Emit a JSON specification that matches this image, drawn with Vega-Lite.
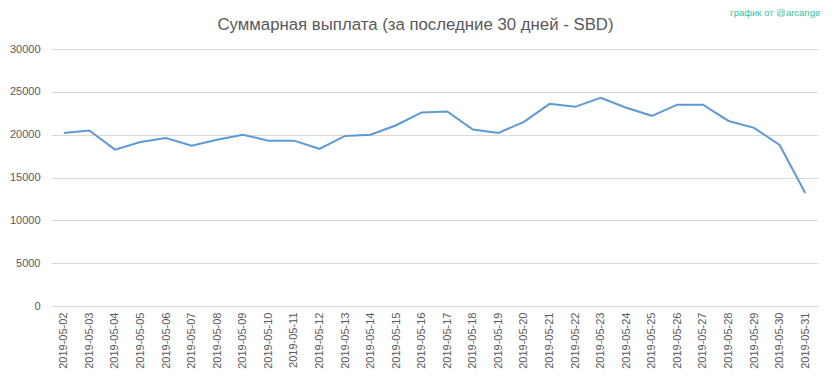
{
  "$schema": "https://vega.github.io/schema/vega-lite/v6.json",
  "width": 767,
  "height": 257,
  "autosize": {"type": "none"},
  "padding": {"left": 51, "top": 49, "right": 15, "bottom": 73},
  "background": "white",
  "config": {
    "view": {"stroke": null},
    "font": "Liberation Sans"
  },
  "title": {
    "text": "Суммарная выплата (за последние 30 дней - SBD)",
    "font": "Liberation Sans",
    "fontSize": 16.8,
    "fontWeight": "normal",
    "color": "#595959",
    "anchor": "middle",
    "baseline": "alphabetic",
    "dx": -19,
    "offset": -39
  },
  "layer": [
    {
      "data": {
        "values": [
          {"date": "2019-05-02", "value": 20200},
          {"date": "2019-05-03", "value": 20480},
          {"date": "2019-05-04", "value": 18250},
          {"date": "2019-05-05", "value": 19150},
          {"date": "2019-05-06", "value": 19600},
          {"date": "2019-05-07", "value": 18700},
          {"date": "2019-05-08", "value": 19400},
          {"date": "2019-05-09", "value": 20000},
          {"date": "2019-05-10", "value": 19300},
          {"date": "2019-05-11", "value": 19300},
          {"date": "2019-05-12", "value": 18350},
          {"date": "2019-05-13", "value": 19850},
          {"date": "2019-05-14", "value": 20000},
          {"date": "2019-05-15", "value": 21100},
          {"date": "2019-05-16", "value": 22600},
          {"date": "2019-05-17", "value": 22700},
          {"date": "2019-05-18", "value": 20600},
          {"date": "2019-05-19", "value": 20200},
          {"date": "2019-05-20", "value": 21500},
          {"date": "2019-05-21", "value": 23600},
          {"date": "2019-05-22", "value": 23250},
          {"date": "2019-05-23", "value": 24300},
          {"date": "2019-05-24", "value": 23150},
          {"date": "2019-05-25", "value": 22200},
          {"date": "2019-05-26", "value": 23500},
          {"date": "2019-05-27", "value": 23500},
          {"date": "2019-05-28", "value": 21600},
          {"date": "2019-05-29", "value": 20800},
          {"date": "2019-05-30", "value": 18800},
          {"date": "2019-05-31", "value": 13200}
        ]
      },
      "mark": {"type": "line", "color": "#5b9bd5", "strokeWidth": 2},
      "encoding": {
        "x": {
          "field": "date",
          "type": "ordinal",
          "title": null,
          "scale": {"type": "point", "padding": 0.5},
          "axis": {
            "labelAngle": -90,
            "labelColor": "#595959",
            "labelFontSize": 11,
            "labelPadding": 6,
            "ticks": false,
            "domainColor": "#d9d9d9",
            "grid": false
          }
        },
        "y": {
          "field": "value",
          "type": "quantitative",
          "title": null,
          "scale": {"domain": [0, 30000], "nice": false},
          "axis": {
            "values": [0, 5000, 10000, 15000, 20000, 25000, 30000],
            "format": "d",
            "labelColor": "#595959",
            "labelFontSize": 11,
            "labelPadding": 11,
            "ticks": false,
            "domain": false,
            "gridColor": "#d9d9d9"
          }
        }
      }
    },
    {
      "data": {"values": [{"label": "график от @arcange", "date": "2019-05-31", "value": 30000}]},
      "mark": {"type": "text", "color": "#33c3a3", "fontSize": 9.5, "align": "right", "baseline": "middle", "dx": 15, "dy": -36, "clip": false},
      "encoding": {
        "x": {"field": "date", "type": "ordinal"},
        "y": {"field": "value", "type": "quantitative"},
        "text": {"field": "label"}
      }
    }
  ]
}
